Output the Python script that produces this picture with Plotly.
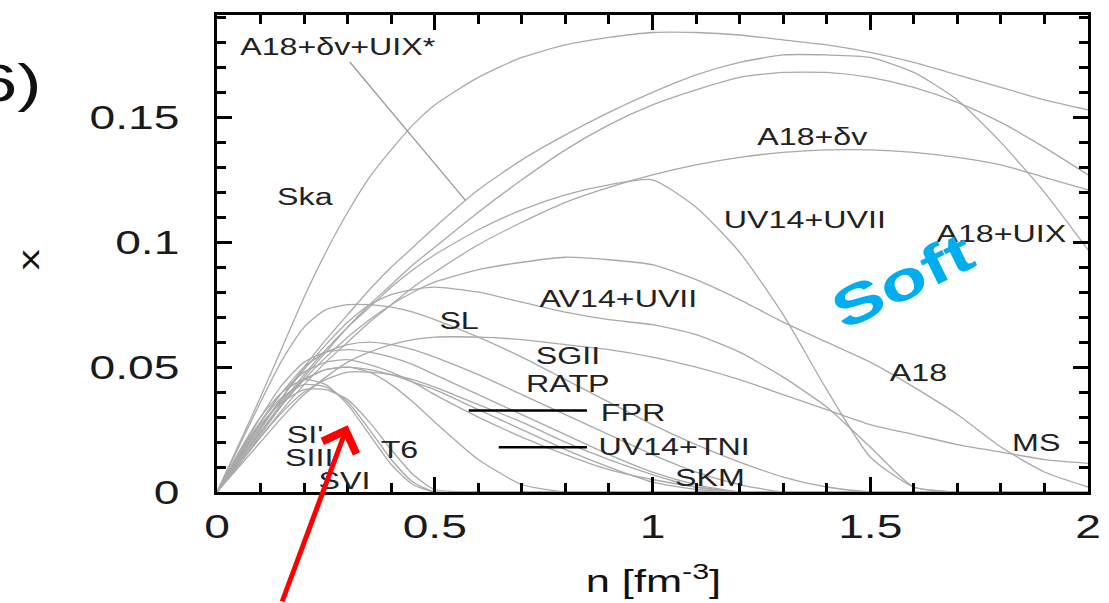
import numpy as np
import plotly.graph_objects as go

# Baryon density grid [fm^-3]
n = [0, .05, .1, .15, .2, .25, .3, .35, .4, .45, .5, .6, .7, .8, .9,
     1.0, 1.1, 1.2, 1.3, 1.4, 1.5, 1.6, 1.7, 1.8, 1.9, 2.0]

# Proton fraction x(n) for each equation of state
ska = [0, .019, .038, .058, .078, .096, .112, .126, .137, .147, .155, .166, .174, .179, .182,
       .184, .184, .183, .181, .179, .176, .172, .167, .162, .157, .153]
a18_uix = [0, .012, .025, .038, .05, .061, .071, .081, .09, .098, .106, .121, .133, .143, .152,
           .16, .167, .172, .175, .175, .174, .168, .157, .14, .12, .097]
a18_dv_uix_star = [0, .011, .023, .035, .046, .056, .066, .075, .083, .091, .098, .112, .125, .137, .147,
                   .155, .161, .166, .168, .168, .166, .162, .156, .148, .138, .127]
a18_dv = [0, .011, .022, .033, .043, .052, .06, .068, .075, .082, .088, .099, .108, .116, .122,
          .127, .131, .134, .136, .137, .137, .136, .134, .131, .126, .121]
uv14_uvii = [0, .012, .024, .036, .047, .057, .066, .074, .082, .089, .095, .105, .113, .119, .123,
             .125, .114, .096, .071, .041, .014, .002, 0, 0, 0, 0]
a18 = [0, .012, .024, .035, .045, .054, .062, .069, .075, .08, .084, .089, .092, .094, .093,
       .091, .085, .077, .068, .06, .052, .042, .031, .018, .008, .002]
av14_uvii = [0, .013, .026, .038, .049, .059, .068, .075, .079, .081, .082, .08, .076, .072, .069,
             .067, .063, .056, .046, .034, .018, .002, 0, 0, 0, 0]
ms = [0, .01, .02, .03, .039, .046, .052, .056, .059, .061, .062, .062, .061, .059, .057,
      .054, .05, .045, .039, .033, .027, .023, .019, .016, .013, .0115]
sl = [0, .018, .036, .053, .066, .073, .075, .075, .074, .072, .069, .062, .054, .045, .036,
      .027, .019, .012, .006, .002, 0, 0, 0, 0, 0, 0]
sgii = [0, .014, .028, .04, .05, .056, .059, .06, .059, .057, .054, .047, .039, .031, .023,
        .015, .008, .003, 0, 0, 0, 0, 0, 0, 0, 0]
ratp = [0, .015, .03, .043, .052, .056, .057, .056, .054, .051, .047, .039, .031, .023, .015,
        .008, .003, 0, 0, 0, 0, 0, 0, 0, 0, 0]
fpr = [0, .013, .026, .037, .045, .049, .05, .049, .047, .044, .041, .033, .025, .017, .01,
       .004, .001, 0, 0, 0, 0, 0, 0, 0, 0, 0]
uv14_tni = [0, .011, .022, .032, .04, .045, .048, .048, .047, .045, .042, .035, .028, .02, .013,
            .007, .002, 0, 0, 0, 0, 0, 0, 0, 0, 0]
skm = [0, .014, .028, .04, .048, .052, .053, .051, .048, .044, .039, .03, .022, .015, .009,
       .005, .002, 0, 0, 0, 0, 0, 0, 0, 0, 0]
t6 = [0, .013, .026, .037, .045, .049, .05, .048, .043, .036, .028, .013, .003, 0, 0,
      0, 0, 0, 0, 0, 0, 0, 0, 0, 0, 0]
si_prime = [0, .016, .03, .04, .045, .043, .035, .023, .011, .003, 0, 0, 0, 0, 0,
            0, 0, 0, 0, 0, 0, 0, 0, 0, 0, 0]
siii = [0, .015, .028, .038, .043, .042, .036, .025, .013, .004, 0, 0, 0, 0, 0,
        0, 0, 0, 0, 0, 0, 0, 0, 0, 0, 0]
svi = [0, .014, .027, .036, .041, .041, .037, .028, .017, .007, .001, 0, 0, 0, 0,
       0, 0, 0, 0, 0, 0, 0, 0, 0, 0, 0]

curves = {
    "Ska": ska, "A18+UIX": a18_uix, "A18+δv+UIX*": a18_dv_uix_star, "A18+δv": a18_dv,
    "UV14+UVII": uv14_uvii, "A18": a18, "AV14+UVII": av14_uvii, "MS": ms, "SL": sl,
    "SGII": sgii, "RATP": ratp, "FPR": fpr, "UV14+TNI": uv14_tni, "SKM": skm, "T6": t6,
    "SI'": si_prime, "SIII": siii, "SVI": svi,
}

x_ticks = [0, 0.5, 1, 1.5, 2]
x_tick_text = ["0", "0.5", "1", "1.5", "2"]
y_ticks = [0, 0.05, 0.1, 0.15]
y_tick_text = ["0", "0.05", "0.1", "0.15"]

FONT = "Liberation Sans, Arial, Helvetica, sans-serif"
CURVE_COLOR = "#a9a9a9"
LABEL_FONT = dict(family=FONT, size=23, color="#222")

fig = go.Figure()
for name, vals in curves.items():
    fig.add_trace(go.Scatter(
        x=n, y=vals, mode="lines", name=name,
        line=dict(color=CURVE_COLOR, width=1.3, shape="spline", smoothing=0.6),
        showlegend=False, hoverinfo="skip",
    ))

# curve labels (text, n, x)
labels = [
    ("Ska", 0.203, 0.118), ("A18+δv", 1.367, 0.142), ("UV14+UVII", 1.351, 0.109),
    ("A18+UIX", 1.801, 0.1035), ("AV14+UVII", 0.921, 0.0772), ("SL", 0.555, 0.0684),
    ("SGII", 0.807, 0.0545), ("RATP", 0.807, 0.0434), ("SKM", 1.131, 0.0056),
    ("A18", 1.611, 0.0478), ("MS", 1.881, 0.0195), ("SI'", 0.201, 0.0228),
    ("SIII", 0.213, 0.0135), ("SVI", 0.293, 0.0046), ("T6", 0.418, 0.0167),
    ("FPR", 0.956, 0.0318), ("UV14+TNI", 1.05, 0.0179),
]
annotations = []
for txt, lx, ly in labels:
    annotations.append(dict(x=lx, y=ly, xref="x", yref="y", text=txt, showarrow=False,
                            font=LABEL_FONT))

# leader lines
star_n = 0.571
annotations.append(dict(
    x=star_n, y=float(np.interp(star_n, n, a18_uix)), xref="x", yref="y",
    ax=0.277, ay=0.178, axref="x", ayref="y", text="A18+δv+UIX*",
    showarrow=True, arrowhead=0, arrowwidth=1.3, arrowcolor="#9a9a9a", font=LABEL_FONT))
for (px, py, tail) in [(0.578, 0.0326, 0.853), (0.647, 0.0179, 0.853)]:
    annotations.append(dict(
        x=px, y=py, xref="x", yref="y", ax=tail, ay=py, axref="x", ayref="y",
        text="", showarrow=True, arrowhead=0, arrowwidth=2.5, arrowcolor="black"))

# red pointer arrow
annotations.append(dict(
    x=0.30, y=0.0267, xref="x", yref="y", ax=-66, ay=190, text="",
    showarrow=True, arrowhead=4, arrowsize=1.4, arrowwidth=5, arrowcolor="#ff0000"))

# "Soft" tag
annotations.append(dict(
    x=1.573, y=0.0844, xref="x", yref="y", text="<b>Soft</b>", showarrow=False,
    textangle=-26, font=dict(family=FONT, size=55, color="#00aeef")))

# panel number
annotations.append(dict(
    x=-0.2103, y=0.858, xref="paper", yref="paper", xanchor="right", yanchor="middle",
    text="6)", showarrow=False, font=dict(family=FONT, size=52, color="#111")))

# axis titles
annotations.append(dict(
    x=0.5006, y=-0.183, xref="paper", yref="paper", xanchor="center", yanchor="middle",
    text="n [fm<sup>-3</sup>]", showarrow=False, font=dict(family=FONT, size=31, color="#111")))
annotations.append(dict(
    x=-0.216, y=0.4875, xref="paper", yref="paper", xanchor="center", yanchor="middle",
    text="x", textangle=-90, showarrow=False, font=dict(family=FONT, size=30, color="#111")))

axis_common = dict(
    showline=True, linewidth=3, linecolor="black", mirror="ticks",
    ticks="inside", ticklen=15, tickwidth=3, tickcolor="black",
    showgrid=False, zeroline=False,
    tickfont=dict(family=FONT, size=33, color="#1a1a1a"),
)

fig.update_layout(
    width=1109, height=603,
    margin=dict(l=217, r=17, t=12, b=111),
    paper_bgcolor="white", plot_bgcolor="white",
    xaxis=dict(range=[0, 2], tickvals=x_ticks, ticktext=x_tick_text,
               minor=dict(ticks="inside", ticklen=9, tickwidth=2.5, dtick=0.1, tickcolor="black"),
               ticklabelstandoff=3, **axis_common),
    yaxis=dict(range=[0, 0.191], tickvals=y_ticks, ticktext=y_tick_text,
               minor=dict(ticks="inside", ticklen=9, tickwidth=2.5, dtick=0.01, tickcolor="black"),
               ticklabelstandoff=28, **axis_common),
    annotations=annotations,
)

# widen glyphs horizontally so the lettering has the broad proportions of the figure
stretch_js = """
var gd = document.getElementById('{plot_id}');
gd.querySelectorAll('text').forEach(function (t) {
  var w = t.getComputedTextLength();
  if (w > 0) {
    t.setAttribute('textLength', (w * 1.4).toFixed(1));
    t.setAttribute('lengthAdjust', 'spacingAndGlyphs');
  }
});
"""

fig.write_html("out.html", config={"displayModeBar": False}, post_script=stretch_js)
